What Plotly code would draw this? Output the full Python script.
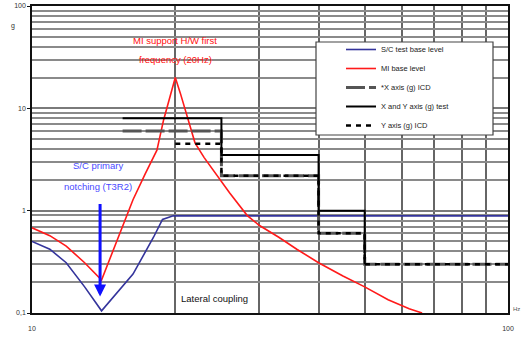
import math
import plotly.graph_objects as go

# ---------------- data ----------------
sc_base_f = [10, 10.9, 11.8, 12.9, 14.0, 16.3, 18.0, 18.8, 19.8, 100]
sc_base_g = [0.50, 0.42, 0.31, 0.18, 0.105, 0.24, 0.55, 0.82, 0.89, 0.89]

mi_base_f = [10, 10.9, 11.8, 12.9, 14.0, 15.0, 16.3, 17.3, 18.3, 18.9, 19.5, 20.0,
             20.5, 21.0, 21.5, 22.0, 23.0, 24.0, 26.0, 28.3, 30.0, 33.0, 36.0,
             40.0, 45.0, 50.0, 56.0, 62.0, 66.0]
mi_base_g = [0.68, 0.57, 0.45, 0.31, 0.21, 0.48, 1.28, 2.3, 3.9, 7.7, 13, 20,
             14, 9.5, 6.5, 4.6, 3.3, 2.5, 1.5, 0.9, 0.72, 0.55, 0.42,
             0.31, 0.23, 0.18, 0.135, 0.11, 0.1]

x_icd_f = [15.5, 25, 25, 40, 40, 50, 50, 100]
x_icd_g = [6, 6, 2.2, 2.2, 0.6, 0.6, 0.3, 0.3]

xy_test_f = [15.5, 25, 25, 40, 40, 50, 50]
xy_test_g = [8, 8, 3.5, 3.5, 1.0, 1.0, 0.3]

y_icd_f = [20, 25, 25, 40, 40, 50, 50, 100]
y_icd_g = [4.5, 4.5, 2.2, 2.2, 0.6, 0.6, 0.3, 0.3]

series_names = ["S/C test base level", "MI base level", "*X axis (g) ICD",
                "X and Y axis (g) test", "Y axis (g) ICD"]

y_major = [0.1, 1, 10, 100]
y_major_text = ["0,1", "1", "10", "100"]
y_minor = [0.2, 0.3, 0.4, 0.5, 0.6, 0.7, 0.8, 0.9,
           2, 3, 4, 5, 6, 7, 8, 9,
           20, 30, 40, 50, 60, 70, 80, 90]
x_major = [10, 100]
x_major_text = ["10", "100"]
x_minor = [20, 30, 40, 50, 60, 70, 80, 90]

FONT = "Liberation Sans, Arial, sans-serif"

fig = go.Figure()
fig.add_trace(go.Scatter(x=sc_base_f, y=sc_base_g, mode="lines", name=series_names[0],
                         line=dict(color="#34349c", width=1.6)))
fig.add_trace(go.Scatter(x=mi_base_f, y=mi_base_g, mode="lines", name=series_names[1],
                         line=dict(color="#ff1a1a", width=1.6)))
fig.add_trace(go.Scatter(x=x_icd_f, y=x_icd_g, mode="lines", name=series_names[2],
                         line=dict(color="#555555", width=3, dash="19px,4px")))
fig.add_trace(go.Scatter(x=xy_test_f, y=xy_test_g, mode="lines", name=series_names[3],
                         line=dict(color="#000000", width=2)))
fig.add_trace(go.Scatter(x=y_icd_f, y=y_icd_g, mode="lines", name=series_names[4],
                         line=dict(color="#000000", width=2.5, dash="5px,5px")))

L, R, T, B = 32, 13, 6, 24
W, H = 521, 337
pw, ph = W - L - R, H - T - B


def px(xp):
    return (xp - L) / pw


def py(yp):
    return (H - B - yp) / ph


# legend box
fig.add_shape(type="rect", xref="paper", yref="paper",
              x0=px(316), x1=px(493), y0=py(135), y1=py(42),
              fillcolor="white", line=dict(color="#444444", width=1.2), layer="above")


def note(x, y, text, color, size=9.5, xref="paper", xanchor="center"):
    return dict(x=x, y=y, xref=xref, yref="paper", text=text, showarrow=False,
                xanchor=xanchor, yanchor="middle",
                font=dict(family=FONT, size=size, color=color))


ann = [
    note(math.log10(20), py(40), "MI support H/W first", "#ff1010", xref="x"),
    note(math.log10(20), py(60), "frequency (20Hz)", "#ff1010", xref="x"),
    note(px(98), py(165), "S/C primary", "#4a4aff"),
    note(px(98), py(186), "notching (T3R2)", "#4a4aff"),
    note(px(179), py(298), "Lateral coupling", "#111111", xanchor="left"),
    note(px(516), py(309), "Hz", "#555555", size=6),
    note(px(13), py(26), "g", "#333333", size=7),
    # notch arrow
    dict(x=math.log10(13.9), y=math.log10(0.145), xref="x", yref="y", text="",
         showarrow=True, ax=0, ay=-94, arrowhead=2, arrowsize=0.8, arrowwidth=3,
         arrowcolor="#1010ff"),
]

fig.update_layout(
    width=W, height=H,
    margin=dict(l=L, r=R, t=T, b=B, pad=0, autoexpand=False),
    paper_bgcolor="white", plot_bgcolor="white",
    font=dict(family=FONT, size=7, color="#333333"),
    showlegend=True,
    legend=dict(x=px(341), y=py(35), xanchor="left", yanchor="top",
                bgcolor="rgba(0,0,0,0)", borderwidth=0,
                font=dict(family=FONT, size=7.5, color="#222222"),
                itemwidth=30, tracegroupgap=0),
    annotations=ann,
    xaxis=dict(type="log", range=[1, 2], tickmode="array", tickvals=x_major,
               ticktext=x_major_text, ticks="", tickfont=dict(size=7, color="#333333"),
               showgrid=True, gridcolor="#666666", gridwidth=2,
               minor=dict(tickmode="array", tickvals=x_minor, showgrid=True,
                          gridcolor="#666666", gridwidth=2, ticks=""),
               showline=True, linecolor="#111111", linewidth=1.5, mirror=True,
               zeroline=False, ticklabelstandoff=8, automargin=False),
    yaxis=dict(type="log", range=[-1, 2], tickmode="array", tickvals=y_major,
               ticktext=y_major_text, ticks="outside", ticklen=3, tickcolor="#111111",
               tickfont=dict(size=7, color="#333333"),
               showgrid=True, gridcolor="#7a7a7a", gridwidth=2,
               minor=dict(tickmode="array", tickvals=y_minor, showgrid=True,
                          gridcolor="#8a8a8a", gridwidth=2, ticks=""),
               showline=True, linecolor="#111111", linewidth=1.5, mirror=True,
               zeroline=False, automargin=False),
)

fig.write_html("out.html", config={"displayModeBar": False},
               post_script="document.body.style.margin='0px';document.body.style.padding='0px';")
